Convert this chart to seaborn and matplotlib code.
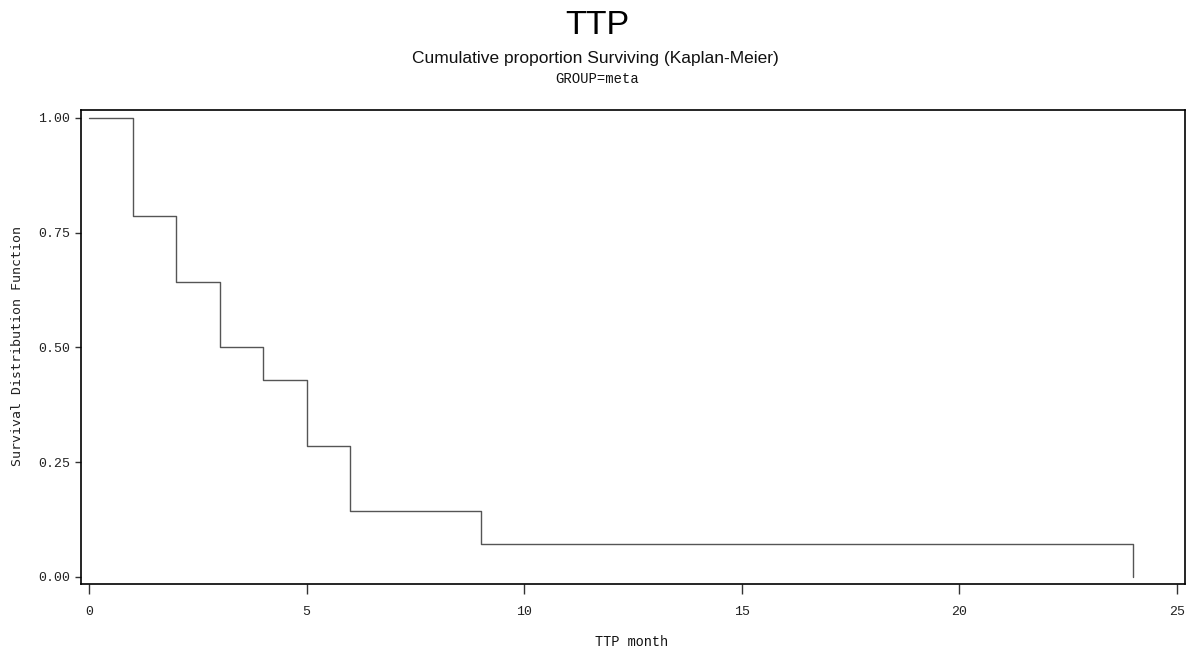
import matplotlib
matplotlib.use("Agg")
import matplotlib.pyplot as plt
import seaborn as sns
import pandas as pd

# Kaplan-Meier estimate for GROUP=meta
ttp_month = [0, 1, 2, 3, 4, 5, 6, 9, 24]
survival = [1.0, 0.786, 0.643, 0.5, 0.429, 0.286, 0.143, 0.071, 0.0]
x_ticks = [0, 5, 10, 15, 20, 25]
y_ticks = [0.0, 0.25, 0.5, 0.75, 1.0]
y_tick_labels = ["0.00", "0.25", "0.50", "0.75", "1.00"]

sns.set_theme(style="white")
plt.rcParams["font.family"] = ["Liberation Sans", "DejaVu Sans"]

df = pd.DataFrame({"ttp": ttp_month, "surv": survival})

W, H = 1187, 648
fig = plt.figure(figsize=(W / 100, H / 100), dpi=100)
ax = fig.add_axes([81 / W, 64 / H, (1185 - 81) / W, (584 - 110) / H])

sns.lineplot(data=df, x="ttp", y="surv", ax=ax, drawstyle="steps-post",
             color="#555555", linewidth=1.0, estimator=None)

ax.set_xlim(-0.184, 25.184)
ax.set_ylim(-0.0153, 1.0174)
ax.set_xticks(x_ticks)
ax.set_xticklabels([str(v) for v in x_ticks])
ax.set_yticks(y_ticks)
ax.set_yticklabels(y_tick_labels)

mono = ["Liberation Mono", "DejaVu Sans Mono"]
ax.tick_params(axis="x", direction="out", length=7, width=1, color="#333333",
               pad=9, labelsize=9.5)
ax.tick_params(axis="y", direction="out", length=4, width=1, color="#333333",
               pad=4, labelsize=9.5)
ax.tick_params(bottom=True, left=True)
for lab in ax.get_xticklabels() + ax.get_yticklabels():
    lab.set_family(mono)
    lab.set_color("#222222")

for side in ["top", "right", "bottom", "left"]:
    ax.spines[side].set_visible(True)
    ax.spines[side].set_color("black")
    ax.spines[side].set_linewidth(1.2)

ax.set_xlabel("")
ax.set_ylabel("")

fig.text(632 / W, 1 - 642 / H, "TTP month", ha="center", va="center",
         family=mono, fontsize=9.8, color="#111111")
fig.text(18 / W, 1 - 346 / H, "Survival Distribution Function", ha="center",
         va="center", rotation=90, family=["DejaVu Sans Mono"], fontsize=9.5,
         color="#222222")

fig.text(597 / W, 1 - 26 / H, "TTP", ha="center", va="center",
         fontsize=24.5, color="black")
fig.text(595 / W, 1 - 58 / H, "Cumulative proportion Surviving (Kaplan-Meier)",
         ha="center", va="center", fontsize=12.5, color="#111111")
fig.text(597 / W, 1 - 79 / H, "GROUP=meta", ha="center", va="center",
         family=mono, fontsize=10, color="#111111")

fig.savefig("out.png", dpi=100, facecolor="white")
